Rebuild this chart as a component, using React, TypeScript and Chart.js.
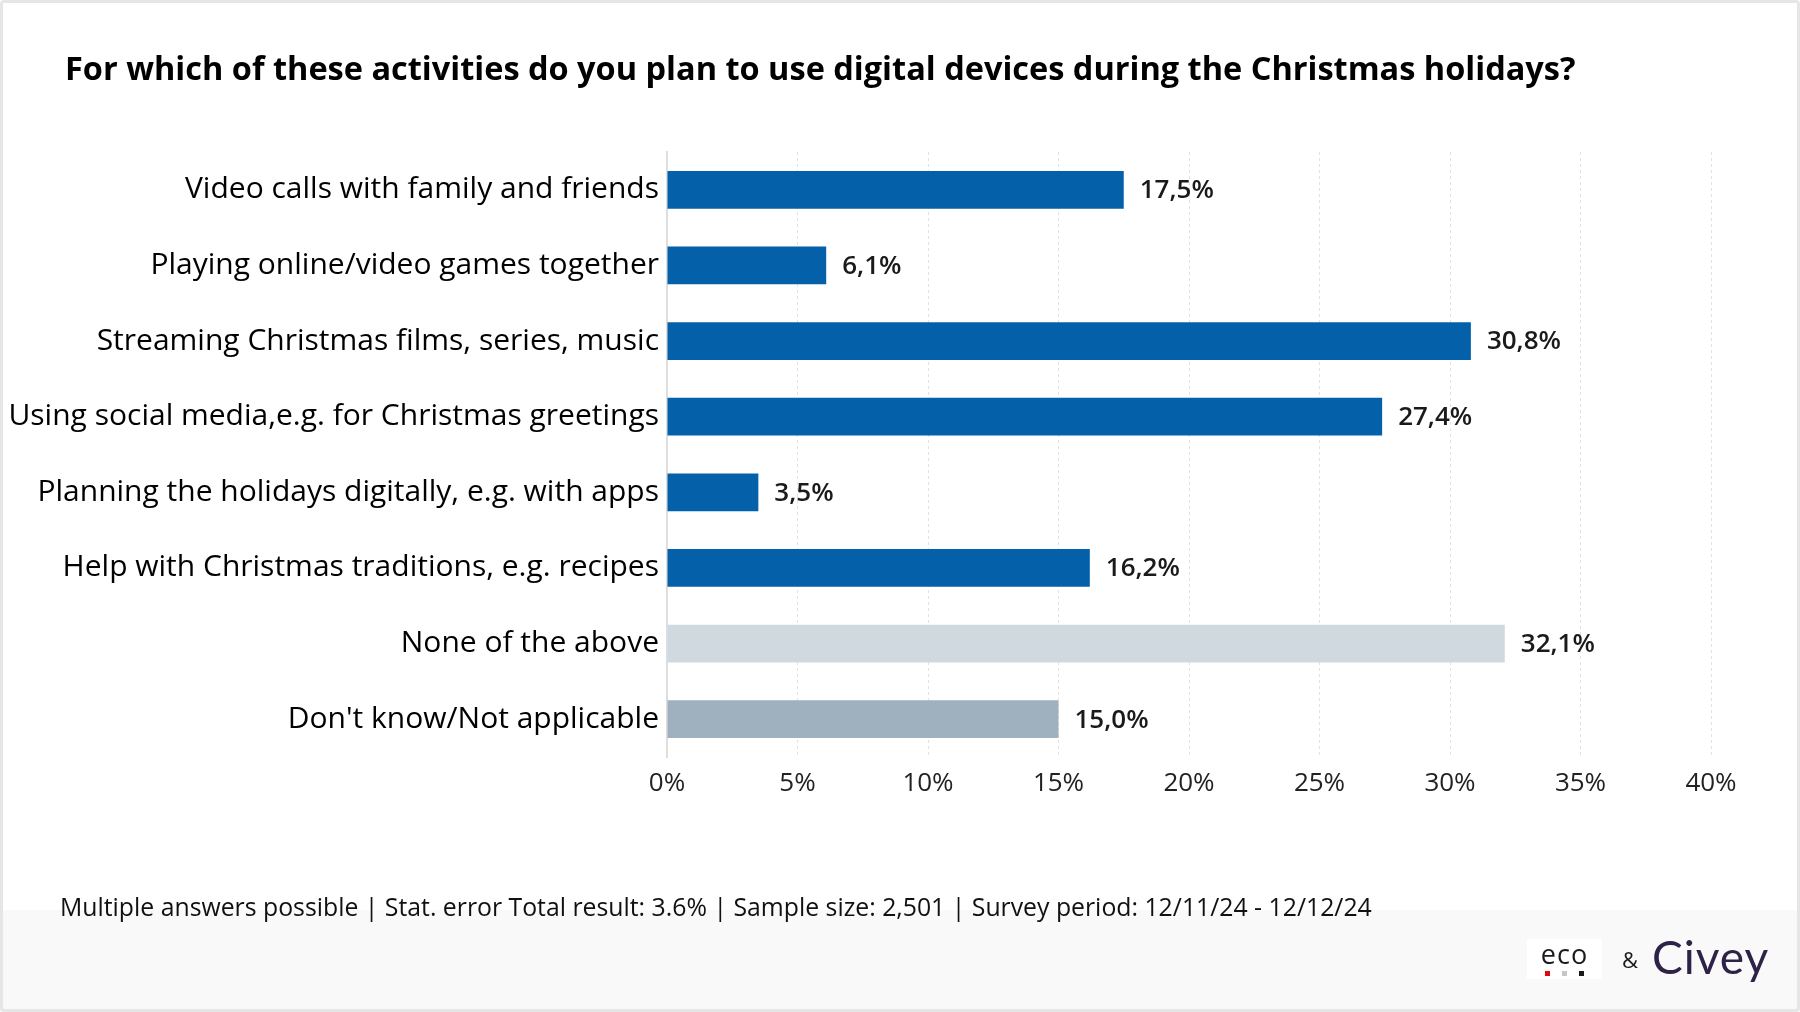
import React, { useEffect, useRef } from "react";
import { Chart, registerables } from "chart.js";

Chart.register(...registerables);

const titleText =
  "For which of these activities do you plan to use digital devices during the Christmas holidays?";
const footerText =
  "Multiple answers possible | Stat. error Total result: 3.6% | Sample size: 2,501 | Survey period: 12/11/24 - 12/12/24";

const categories = [
  "Video calls with family and friends",
  "Playing online/video games together",
  "Streaming Christmas films, series, music",
  "Using social media,e.g. for Christmas greetings",
  "Planning the holidays digitally, e.g. with apps",
  "Help with Christmas traditions, e.g. recipes",
  "None of the above",
  "Don't know/Not applicable",
];
const values = [17.5, 6.1, 30.8, 27.4, 3.5, 16.2, 32.1, 15.0];
const barColors = [
  "#0460a9",
  "#0460a9",
  "#0460a9",
  "#0460a9",
  "#0460a9",
  "#0460a9",
  "#d0d9e0",
  "#9fb1be",
];
const xTicks = [0, 5, 10, 15, 20, 25, 30, 35, 40];

const FONT = "'Open Sans', 'Noto Sans', sans-serif";

const valueLabels = {
  id: "valueLabels",
  afterDatasetsDraw(chart: any) {
    const ctx = chart.ctx;
    const meta = chart.getDatasetMeta(0);
    ctx.save();
    ctx.font = `600 26px ${FONT}`;
    ctx.fillStyle = "#1a1a1a";
    ctx.textAlign = "left";
    ctx.textBaseline = "middle";
    meta.data.forEach((bar: any, i: number) => {
      const v = values[i];
      const txt = v.toFixed(1).replace(".", ",") + "%";
      ctx.fillText(txt, bar.x + 16, bar.y + 1);
    });
    ctx.restore();
  },
};

export default function App() {
  const ref = useRef<HTMLCanvasElement | null>(null);

  useEffect(() => {
    if (!ref.current) return;
    const chart = new Chart(ref.current, {
      type: "bar",
      data: {
        labels: categories,
        datasets: [
          {
            data: values,
            backgroundColor: barColors,
            barPercentage: 0.5,
            categoryPercentage: 1,
          },
        ],
      },
      options: {
        indexAxis: "y",
        responsive: false,
        animation: false,
        layout: { padding: { top: 152, right: 89, bottom: 195, left: 0 } },
        plugins: {
          legend: { display: false },
          tooltip: { enabled: false },
          title: { display: false },
        },
        scales: {
          x: {
            min: 0,
            max: 40,
            afterBuildTicks: (scale: any) => {
              scale.ticks = xTicks.map((v) => ({ value: v }));
            },
            afterFit: (scale: any) => {
              scale.height = 60;
            },
            ticks: {
              callback: (v: any) => v + "%",
              font: { family: FONT, size: 26 },
              color: "#222",
              padding: 11,
            },
            grid: { color: "#e2e2e2", lineWidth: 1, drawTicks: false },
            border: { display: false, dash: [3, 3] },
          },
          y: {
            afterFit: (scale: any) => {
              scale.width = 667;
            },
            ticks: {
              font: { family: FONT, size: 30 },
              color: "#000",
              padding: 8,
            },
            grid: { display: false, drawTicks: false },
            border: { display: true, color: "#dedede", width: 2 },
          },
        },
      },
      plugins: [valueLabels],
    });
    return () => chart.destroy();
  }, []);

  return (
    <div
      style={{
        position: "absolute",
        left: 0,
        top: 0,
        width: 1800,
        height: 1012,
        background: "#ffffff",
        overflow: "hidden",
        fontFamily: FONT,
      }}
    >
      <div
        style={{
          position: "absolute",
          left: 0,
          top: 910,
          width: 1800,
          height: 102,
          background: "#f9f9f9",
        }}
      />
      <canvas
        ref={ref}
        width={1800}
        height={1012}
        style={{ position: "absolute", left: 0, top: 0, width: 1800, height: 1012 }}
      />
      <div
        style={{
          position: "absolute",
          left: 65,
          top: 48,
          fontSize: 32.5,
          fontWeight: 700,
          color: "#000",
          whiteSpace: "nowrap",
          lineHeight: "40px",
        }}
      >
        {titleText}
      </div>
      <div
        style={{
          position: "absolute",
          left: 60,
          top: 889,
          fontSize: 24.8,
          color: "#111",
          whiteSpace: "nowrap",
          lineHeight: "34px",
        }}
      >
        {footerText}
      </div>
      <div
        style={{
          position: "absolute",
          left: 1527,
          top: 939,
          width: 75,
          height: 40,
          background: "#fff",
        }}
      >
        <div
          style={{
            position: "absolute",
            left: 0,
            top: 1,
            width: 75,
            textAlign: "center",
            fontSize: 27,
            lineHeight: "28px",
            color: "#1b1b1b",
            letterSpacing: 1,
          }}
        >
          eco
        </div>
        <div style={{ position: "absolute", left: 18, top: 32, width: 5, height: 5, background: "#e30613" }} />
        <div style={{ position: "absolute", left: 35, top: 32, width: 5, height: 5, background: "#c6c6c6" }} />
        <div style={{ position: "absolute", left: 52, top: 32, width: 5, height: 5, background: "#1b1b1b" }} />
      </div>
      <div
        style={{
          position: "absolute",
          left: 1622,
          top: 944,
          fontSize: 22,
          lineHeight: "30px",
          color: "#1b1b1b",
        }}
      >
        &amp;
      </div>
      <div
        style={{
          position: "absolute",
          left: 1652,
          top: 928,
          fontSize: 46,
          lineHeight: "58px",
          color: "#2e2346",
          fontFamily: "Lato, sans-serif",
          letterSpacing: 1,
        }}
      >
        Civey
      </div>
      <div
        style={{
          position: "absolute",
          left: 0,
          top: 0,
          width: 1800,
          height: 1012,
          boxSizing: "border-box",
          border: "3px solid #e6e6e6",
          borderRadius: 4,
          pointerEvents: "none",
        }}
      />
    </div>
  );
}
